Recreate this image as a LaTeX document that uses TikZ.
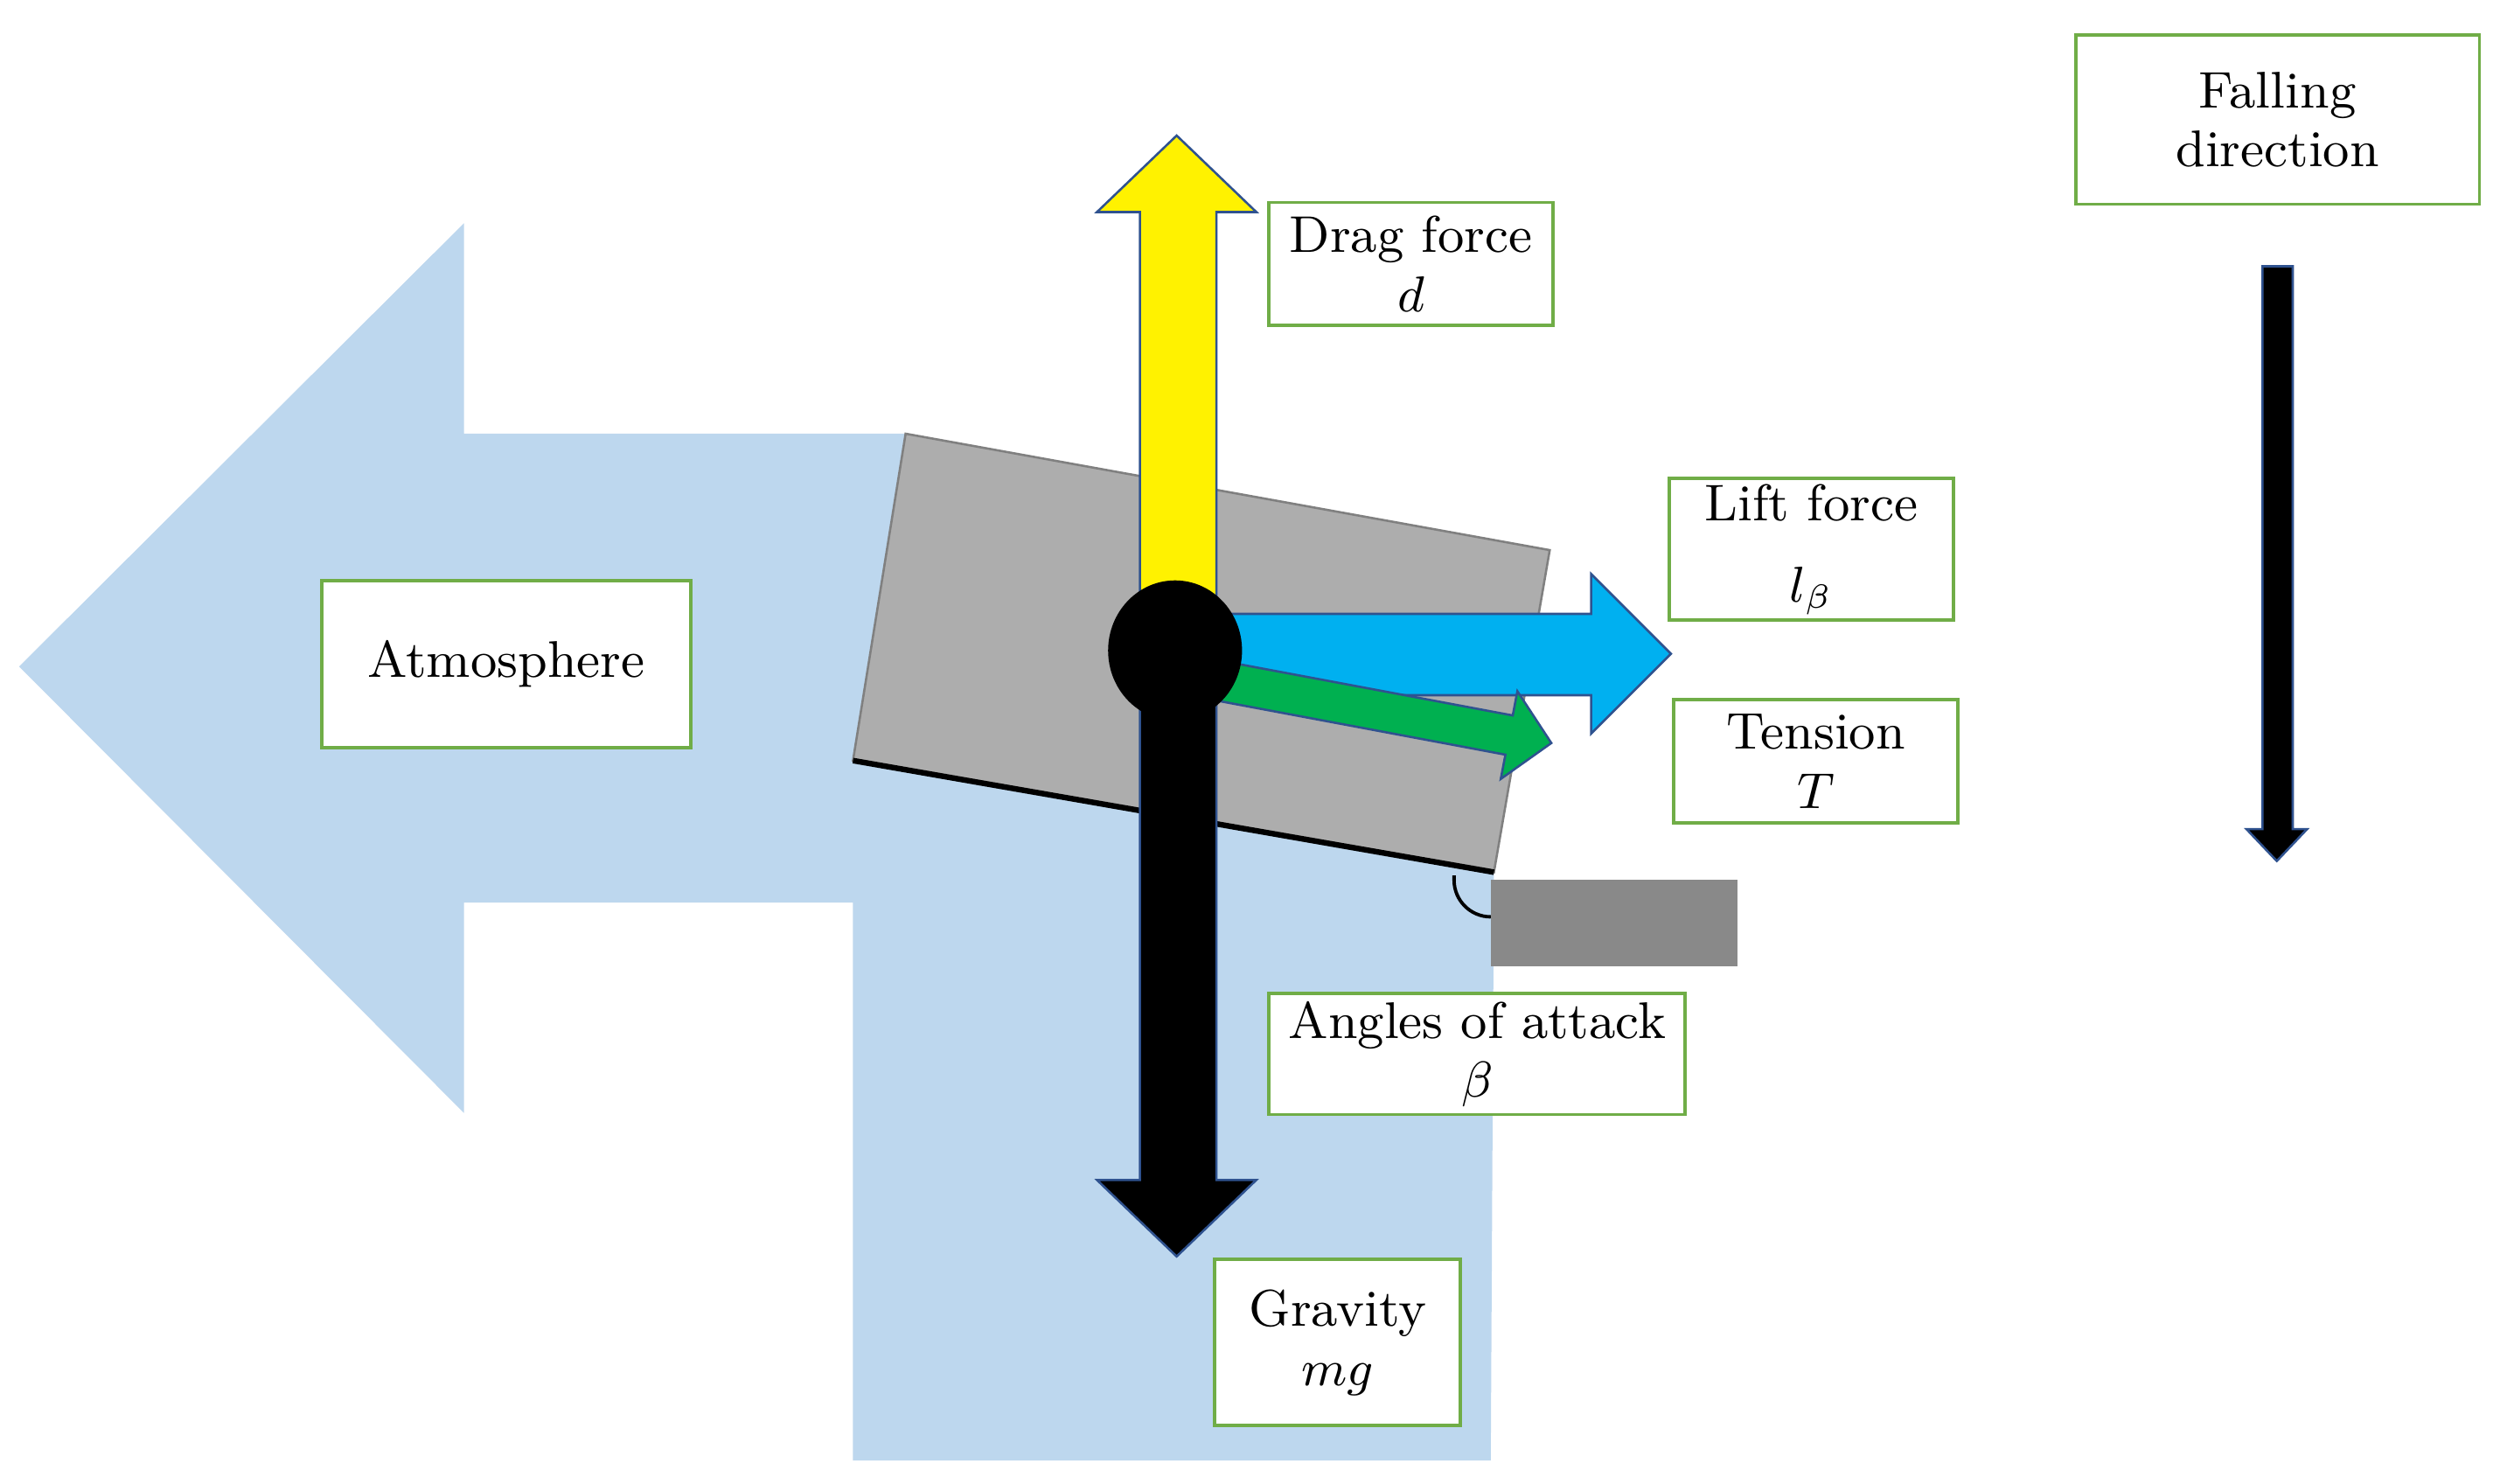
\documentclass[tikz,border=0pt]{standalone}
\usepackage{amsmath}
\usepackage{tikz}
\definecolor{atmblue}{HTML}{BDD7EE}
\definecolor{plategray}{HTML}{ADADAD}
\definecolor{blockgray}{HTML}{898989}
\definecolor{liftblue}{HTML}{00B0F0}
\definecolor{tensgreen}{HTML}{00B050}
\definecolor{edgeblue}{HTML}{2F528F}
\definecolor{boxgreen}{HTML}{70AD47}

\begin{document}
\begin{tikzpicture}[x=0.01cm,y=-0.01cm,
		label box/.style={draw=boxgreen,line width=0.6pt,fill=white,align=center,inner sep=0pt,font=\fontsize{9.2}{10.5}\selectfont},
		force/.style={draw=edgeblue,line width=0.4pt}]
			\fill [white](0,0) rectangle (1568,930.7);

			\fill [atmblue](12,418) -- (291,140) -- (291,272) -- (568,272) -- (937,547) -- (935,916) -- (535,916) -- (535,566) -- (291,566) -- (291,698) -- cycle;

			\draw [fill=plategray,draw=gray,line width=0.4pt](568,272) -- (972,345) -- (937,547) -- (535,477) -- cycle;
			\draw [black,line width=1pt](535,477) -- (937,547);

			\fill [blockgray](935,552) rectangle (1090,606);
			\draw [black,line width=0.6pt](912,549) -- (912,552) .. controls (912,564.7) and (922.3,575) .. (935,575);

			\draw [force,fill=yellow](715,390) -- (715,133) -- (688,133) -- (738,85) -- (788,133) -- (763,133) -- (763,390) -- cycle;
			\draw [force,fill=black](715,420) -- (715,740) -- (688,740) -- (738,788) -- (788,740) -- (763,740) -- (763,420) -- cycle;
			\draw [force,fill=liftblue](760,385) -- (998,385) -- (998,360) -- (1048,410) -- (998,460) -- (998,436) -- (760,436) -- cycle;
			\draw [force,fill=tensgreen](762,413.7) -- (948.8,448.7) -- (951.7,433.5) -- (973,466) -- (941.3,488.5) -- (944.2,473.3) -- (757.4,438.3) -- cycle;

			\fill [black](737,408) ellipse [x radius=42, y radius=44];

			\draw [force,fill=black](1419,167) -- (1438,167) -- (1438,520) -- (1447,520) -- (1428,540) -- (1409,520) -- (1419,520) -- cycle;

			\node [label box,minimum width=2.31cm,minimum height=1.05cm](atm) at (317.5,416.5) {Atmosphere};
			\node [label box,minimum width=1.78cm,minimum height=0.77cm](drag) at (885,165.5) {Drag force\\$d$};
			\node [label box,minimum width=1.78cm,minimum height=0.89cm](lift) at (1136,344.5) {Lift force\\[4pt]$l_\beta$};
			\node [label box,minimum width=1.78cm,minimum height=0.77cm](tens) at (1139,477.5) {Tension\\$T$};
			\node [label box,minimum width=2.61cm,minimum height=0.76cm](angle) at (926.5,661) {Angles of attack\\$\beta$};
			\node [label box,minimum width=1.54cm,minimum height=1.04cm](grav) at (839,842) {Gravity\\$mg$};
			\node [label box,minimum width=2.53cm,minimum height=1.06cm](fall) at (1428.5,75) {Falling\\direction};

		\end{tikzpicture}
\end{document}
